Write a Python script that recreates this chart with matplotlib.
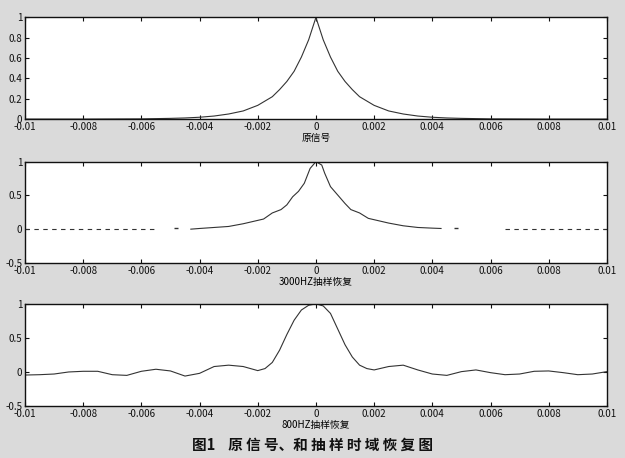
import matplotlib.pyplot as plt

plt.rcParams['font.family'] = ['Noto Sans CJK SC', 'DejaVu Sans']

# original signal
t_orig = [-0.01, -0.008, -0.006, -0.005, -0.0045, -0.004, -0.0035, -0.003, -0.0025,
          -0.002, -0.0015, -0.00125, -0.001, -0.00075, -0.0005, -0.00025, 0.0,
          0.00025, 0.0005, 0.00075, 0.001, 0.00125, 0.0015, 0.002,
          0.0025, 0.003, 0.0035, 0.004, 0.0045, 0.005, 0.006, 0.008, 0.01]
y_orig = [0.0, 0.0, 0.002, 0.007, 0.011, 0.018, 0.03, 0.05, 0.08,
          0.135, 0.22, 0.29, 0.37, 0.47, 0.61, 0.78, 1.0,
          0.78, 0.61, 0.47, 0.37, 0.29, 0.22, 0.135,
          0.08, 0.05, 0.03, 0.018, 0.011, 0.007, 0.002, 0.0, 0.0]

# 3000Hz reconstruction
t_3k = [-0.0043, -0.004, -0.003, -0.0025, -0.002, -0.0018, -0.0015, -0.0012, -0.001,
        -0.0008, -0.0006, -0.0004, -0.0002, 0.0, 0.0002, 0.0003, 0.0005, 0.0008,
        0.001, 0.0012, 0.0015, 0.0018, 0.002, 0.0025, 0.003, 0.0035, 0.004, 0.0043]
y_3k = [0.0, 0.01, 0.04, 0.08, 0.13, 0.15, 0.24, 0.29, 0.36,
        0.48, 0.56, 0.68, 0.9, 1.0, 0.95, 0.83, 0.63, 0.48,
        0.38, 0.29, 0.24, 0.16, 0.14, 0.09, 0.05, 0.025, 0.015, 0.01]
# flat tails of the 3000Hz panel, broken up in the scan
tail_3k_left = [-0.01, -0.0055]
tail_3k_right = [0.0065, 0.01]
dots_3k = [-0.0048, 0.0048]

# 800Hz reconstruction
t_800 = [-0.01, -0.0095, -0.009, -0.0085, -0.008, -0.0075, -0.007, -0.0065, -0.006,
         -0.0055, -0.005, -0.0045, -0.004, -0.0035, -0.003, -0.0025, -0.002, -0.00175,
         -0.0015, -0.00125, -0.001, -0.00075, -0.0005, -0.00025, 0.0, 0.00025, 0.0005,
         0.00075, 0.001, 0.00125, 0.0015, 0.00175, 0.002, 0.0025, 0.003, 0.0035, 0.004,
         0.0045, 0.005, 0.0055, 0.006, 0.0065, 0.007, 0.0075, 0.008, 0.0085, 0.009,
         0.0095, 0.01]
y_800 = [-0.045, -0.04, -0.03, 0.0, 0.01, 0.01, -0.04, -0.05, 0.01,
         0.04, 0.015, -0.06, -0.02, 0.08, 0.1, 0.08, 0.02, 0.05,
         0.14, 0.32, 0.55, 0.76, 0.91, 0.98, 1.0, 0.97, 0.86,
         0.63, 0.4, 0.22, 0.1, 0.05, 0.03, 0.08, 0.1, 0.03, -0.03,
         -0.05, 0.005, 0.03, -0.01, -0.04, -0.03, 0.01, 0.015, -0.01, -0.04,
         -0.03, 0.005]

xticks = [-0.01, -0.008, -0.006, -0.004, -0.002, 0, 0.002, 0.004, 0.006, 0.008, 0.01]
xtick_labels = ['-0.01', '-0.008', '-0.006', '-0.004', '-0.002', '0',
                '0.002', '0.004', '0.006', '0.008', '0.01']

labels = ['原信号', '3000HZ抽样恢复', '800HZ抽样恢复']
caption = '图1    原 信 号、和 抽 样 时 域 恢 复 图'

fig = plt.figure(figsize=(6.25, 4.58), dpi=100, facecolor='#dadada')

boxes = [[0.04, 0.740, 0.931, 0.222],
         [0.04, 0.426, 0.931, 0.221],
         [0.04, 0.1135, 0.931, 0.223]]
axes = [fig.add_axes(b) for b in boxes]

line_kw = dict(color='#333333', linewidth=0.8)
axes[0].plot(t_orig, y_orig, **line_kw)
axes[1].plot(t_3k, y_3k, **line_kw)
axes[1].plot(tail_3k_left, [0, 0], linestyle=(0, (4, 4)), **line_kw)
axes[1].plot(tail_3k_right, [0, 0], linestyle=(0, (4, 4)), **line_kw)
axes[1].plot(dots_3k, [0.01, 0.01], linestyle='none', marker='_', markersize=3,
             color='#333333')
axes[2].plot(t_800, y_800, **line_kw)

axes[0].set_ylim(0, 1)
axes[0].set_yticks([0, 0.2, 0.4, 0.6, 0.8, 1])
axes[0].set_yticklabels(['0', '0.2', '0.4', '0.6', '0.8', '1'])
for ax in axes[1:]:
    ax.set_ylim(-0.5, 1)
    ax.set_yticks([-0.5, 0, 0.5, 1])
    ax.set_yticklabels(['-0.5', '0', '0.5', '1'])

for ax, lab in zip(axes, labels):
    ax.set_xlim(-0.01, 0.01)
    ax.set_xticks(xticks)
    ax.set_xticklabels(xtick_labels)
    ax.set_facecolor('white')
    ax.tick_params(direction='in', top=True, right=True, labelsize=7,
                   length=3, width=0.8, pad=2, colors='#111111')
    ax.set_xlabel(lab, fontsize=7, labelpad=1)
    for s in ax.spines.values():
        s.set_linewidth(1.0)
        s.set_color('#111111')

fig.text(0.5, 0.028, caption, ha='center', va='center', fontsize=10.5,
         fontweight='bold', color='#111111')

fig.savefig('out.png', dpi=100, facecolor=fig.get_facecolor())
